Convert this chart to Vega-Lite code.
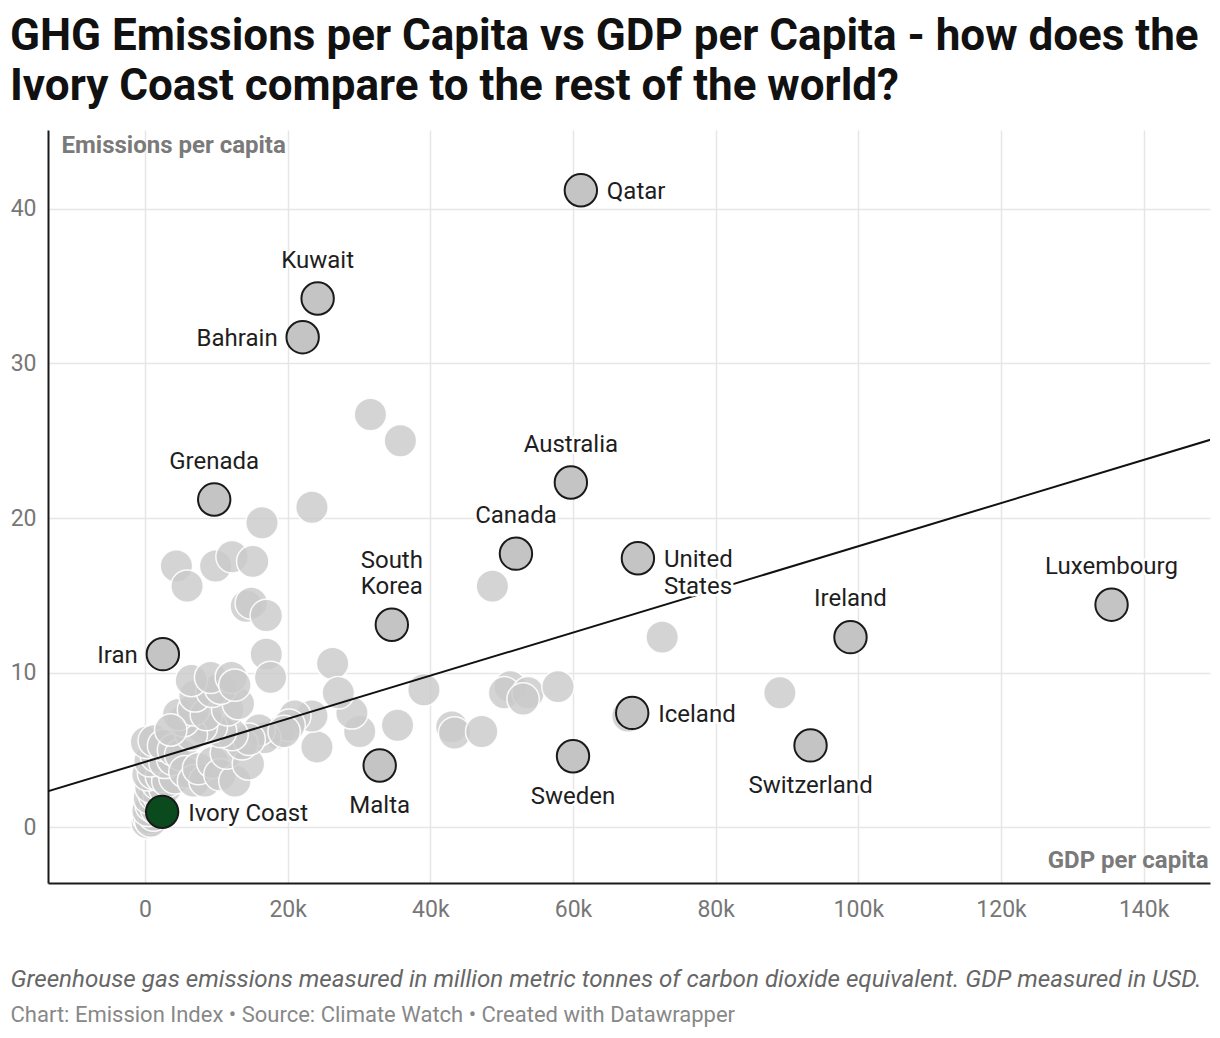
{
  "$schema": "https://vega.github.io/schema/vega-lite/v6.json",
  "width": 1162,
  "height": 753,
  "autosize": {"type": "none"},
  "padding": {"left": 48, "top": 130, "right": 10, "bottom": 155},
  "title": {
    "text": ["GHG Emissions per Capita vs GDP per Capita - how does the", "Ivory Coast compare to the rest of the world?"],
    "anchor": "start",
    "frame": "group",
    "font": "Roboto",
    "fontSize": 44,
    "fontWeight": "bold",
    "color": "#111111",
    "lineHeight": 50,
    "dx": -38,
    "offset": 21
  },
  "datasets": {
    "countries": [
      {"country": "Qatar", "label": "Qatar", "gdp": 61100, "ghg": 41.2},
      {"country": "Kuwait", "label": "Kuwait", "gdp": 24200, "ghg": 34.2},
      {"country": "Bahrain", "label": "Bahrain", "gdp": 22100, "ghg": 31.7},
      {"country": "Grenada", "label": "Grenada", "gdp": 9700, "ghg": 21.2},
      {"country": "Australia", "label": "Australia", "gdp": 59700, "ghg": 22.3},
      {"country": "Canada", "label": "Canada", "gdp": 52000, "ghg": 17.7},
      {"country": "United States", "label": "United\nStates", "gdp": 69100, "ghg": 17.4},
      {"country": "South Korea", "label": "South\nKorea", "gdp": 34600, "ghg": 13.1},
      {"country": "Iran", "label": "Iran", "gdp": 2500, "ghg": 11.2},
      {"country": "Luxembourg", "label": "Luxembourg", "gdp": 135500, "ghg": 14.4},
      {"country": "Ireland", "label": "Ireland", "gdp": 98900, "ghg": 12.3},
      {"country": "Iceland", "label": "Iceland", "gdp": 68300, "ghg": 7.4},
      {"country": "Switzerland", "label": "Switzerland", "gdp": 93300, "ghg": 5.3},
      {"country": "Sweden", "label": "Sweden", "gdp": 60000, "ghg": 4.6},
      {"country": "Malta", "label": "Malta", "gdp": 32900, "ghg": 4.0},
      {"country": "Ivory Coast", "label": "Ivory Coast", "gdp": 2400, "ghg": 1.0},
      {"gdp": 31600, "ghg": 26.7}, {"gdp": 35800, "ghg": 25.0}, {"gdp": 23400, "ghg": 20.7},
      {"gdp": 16400, "ghg": 19.7}, {"gdp": 4400, "ghg": 16.9}, {"gdp": 5900, "ghg": 15.6},
      {"gdp": 9900, "ghg": 16.9}, {"gdp": 12200, "ghg": 17.5}, {"gdp": 15100, "ghg": 17.2},
      {"gdp": 14200, "ghg": 14.3}, {"gdp": 14900, "ghg": 14.5}, {"gdp": 17000, "ghg": 13.7},
      {"gdp": 17000, "ghg": 11.2}, {"gdp": 17600, "ghg": 9.7}, {"gdp": 26300, "ghg": 10.6},
      {"gdp": 48700, "ghg": 15.6}, {"gdp": 72500, "ghg": 12.3}, {"gdp": 89000, "ghg": 8.7},
      {"gdp": 67700, "ghg": 7.2}, {"gdp": 39100, "ghg": 8.9}, {"gdp": 51200, "ghg": 9.1},
      {"gdp": 50400, "ghg": 8.7}, {"gdp": 53700, "ghg": 8.7}, {"gdp": 53000, "ghg": 8.3},
      {"gdp": 57900, "ghg": 9.1}, {"gdp": 43000, "ghg": 6.5}, {"gdp": 43400, "ghg": 6.1},
      {"gdp": 47200, "ghg": 6.2}, {"gdp": 35400, "ghg": 6.6}, {"gdp": 30100, "ghg": 6.2},
      {"gdp": 29000, "ghg": 7.4}, {"gdp": 27100, "ghg": 8.7}, {"gdp": 24100, "ghg": 5.2},
      {"gdp": 23400, "ghg": 7.2}, {"gdp": 21000, "ghg": 7.2}, {"gdp": 18700, "ghg": 6.1},
      {"gdp": 20200, "ghg": 6.6}, {"gdp": 16800, "ghg": 5.8}, {"gdp": 16000, "ghg": 6.3},
      {"gdp": 19500, "ghg": 6.2},
      {"gdp": 300, "ghg": 0.3}, {"gdp": 500, "ghg": 0.6}, {"gdp": 800, "ghg": 0.4},
      {"gdp": 1200, "ghg": 0.8}, {"gdp": 400, "ghg": 1.1}, {"gdp": 900, "ghg": 1.4},
      {"gdp": 1600, "ghg": 1.2}, {"gdp": 600, "ghg": 1.9}, {"gdp": 1300, "ghg": 2.1},
      {"gdp": 2000, "ghg": 2.0}, {"gdp": 800, "ghg": 2.6}, {"gdp": 1800, "ghg": 2.8},
      {"gdp": 2800, "ghg": 2.5}, {"gdp": 400, "ghg": 3.4}, {"gdp": 1200, "ghg": 3.5},
      {"gdp": 2300, "ghg": 3.3}, {"gdp": 3200, "ghg": 3.0}, {"gdp": 4200, "ghg": 3.2},
      {"gdp": 700, "ghg": 4.3}, {"gdp": 1600, "ghg": 4.6}, {"gdp": 2800, "ghg": 4.2},
      {"gdp": 3900, "ghg": 4.4}, {"gdp": 200, "ghg": 5.5}, {"gdp": 1300, "ghg": 5.6},
      {"gdp": 2600, "ghg": 5.3}, {"gdp": 4000, "ghg": 5.0}, {"gdp": 5000, "ghg": 4.7},
      {"gdp": 5600, "ghg": 3.6}, {"gdp": 6800, "ghg": 3.0}, {"gdp": 8400, "ghg": 3.0},
      {"gdp": 7500, "ghg": 3.8}, {"gdp": 9500, "ghg": 4.2}, {"gdp": 10500, "ghg": 3.4},
      {"gdp": 12600, "ghg": 3.0}, {"gdp": 11400, "ghg": 4.8}, {"gdp": 14500, "ghg": 4.1},
      {"gdp": 13600, "ghg": 5.4}, {"gdp": 14600, "ghg": 5.7}, {"gdp": 12200, "ghg": 6.0},
      {"gdp": 10600, "ghg": 6.2}, {"gdp": 9300, "ghg": 6.5}, {"gdp": 7900, "ghg": 6.5},
      {"gdp": 6500, "ghg": 6.0}, {"gdp": 5400, "ghg": 6.9}, {"gdp": 4700, "ghg": 7.3},
      {"gdp": 6800, "ghg": 7.6}, {"gdp": 8600, "ghg": 7.3}, {"gdp": 11600, "ghg": 7.6},
      {"gdp": 13100, "ghg": 8.0}, {"gdp": 7000, "ghg": 8.5}, {"gdp": 9400, "ghg": 8.8},
      {"gdp": 10600, "ghg": 9.0}, {"gdp": 6500, "ghg": 9.5}, {"gdp": 9200, "ghg": 9.7},
      {"gdp": 12100, "ghg": 9.7}, {"gdp": 12600, "ghg": 9.2}, {"gdp": 3600, "ghg": 6.3}
    ],
    "trend": [
      {"gdp_start": -20000, "ghg_start": 1.44, "gdp_end": 160000, "ghg_end": 26.55}
    ]
  },
  "layer": [
    {
      "data": {"name": "countries"},
      "transform": [{"filter": "!datum.country"}],
      "mark": {"type": "circle", "size": 1050, "color": "#c9c9c9", "fillOpacity": 0.8, "stroke": "#ffffff", "strokeWidth": 1.5, "strokeOpacity": 0.9},
      "encoding": {
        "x": {
          "field": "gdp", "type": "quantitative",
          "scale": {"domain": [-13600, 149300], "nice": false, "zero": false},
          "axis": {
            "orient": "bottom",
            "values": [0, 20000, 40000, 60000, 80000, 100000, 120000, 140000],
            "labelExpr": "datum.value === 0 ? '0' : format(datum.value / 1000, 'd') + 'k'",
            "labelPadding": 15,
            "title": "GDP per capita",
            "titleX": 1160, "titleY": -23,
            "titleAlign": "right", "titleBaseline": "middle", "titleAngle": 0
          }
        },
        "y": {
          "field": "ghg", "type": "quantitative",
          "scale": {"domain": [-3.6, 45.1], "nice": false, "zero": false},
          "axis": {
            "orient": "left",
            "values": [0, 10, 20, 30, 40],
            "labelPadding": 12,
            "title": "Emissions per capita",
            "titleX": 13, "titleY": 15,
            "titleAlign": "left", "titleBaseline": "middle", "titleAngle": 0
          }
        }
      }
    },
    {
      "data": {"name": "trend"},
      "mark": {"type": "rule", "color": "#111111", "strokeWidth": 2, "clip": true},
      "encoding": {
        "x": {
          "field": "gdp_start", "type": "quantitative",
          "axis": {
            "orient": "top", "labels": false, "ticks": false, "domain": false, "grid": false,
            "title": "Greenhouse gas emissions measured in million metric tonnes of carbon dioxide equivalent. GDP measured in USD.",
            "titleX": -38, "titleY": 856, "titleAlign": "left", "titleBaseline": "alphabetic", "titleAngle": 0,
            "titleFontStyle": "italic", "titleFontWeight": "normal", "titleFontSize": 24.2, "titleColor": "#666666"
          }
        },
        "x2": {"field": "gdp_end"},
        "y": {
          "field": "ghg_start", "type": "quantitative",
          "axis": {
            "orient": "right", "labels": false, "ticks": false, "domain": false, "grid": false,
            "title": "Chart: Emission Index • Source: Climate Watch • Created with Datawrapper",
            "titleX": -1200, "titleY": 891, "titleAlign": "left", "titleBaseline": "alphabetic", "titleAngle": 0,
            "titleFontWeight": "normal", "titleFontSize": 22, "titleColor": "#888888"
          }
        },
        "y2": {"field": "ghg_end"}
      }
    },
    {
      "data": {"name": "countries"},
      "transform": [{"filter": "datum.country"}],
      "mark": {"type": "circle", "size": 1050, "opacity": 1, "stroke": "#1a1a1a", "strokeWidth": 2},
      "encoding": {
        "x": {"field": "gdp", "type": "quantitative", "axis": null},
        "y": {"field": "ghg", "type": "quantitative", "axis": null},
        "fill": {
          "condition": {"test": "datum.country === 'Ivory Coast'", "value": "#0b4a1d"},
          "value": "#c4c4c4"
        }
      }
    },
    {
      "data": {"name": "countries"},
      "transform": [{"filter": {"field": "country", "oneOf": ["Qatar", "United States", "Iceland", "Ivory Coast"]}}],
      "mark": {"type": "text", "align": "left", "baseline": "top", "dx": 26, "dy": -10, "lineBreak": "\n", "lineHeight": 27, "fontSize": 24, "color": "#ffffff", "stroke": "#ffffff", "strokeWidth": 5, "strokeJoin": "round"},
      "encoding": {
        "x": {"field": "gdp", "type": "quantitative", "axis": null},
        "y": {"field": "ghg", "type": "quantitative", "axis": null},
        "text": {"field": "label"}
      }
    },
    {
      "data": {"name": "countries"},
      "transform": [{"filter": {"field": "country", "oneOf": ["Qatar", "United States", "Iceland", "Ivory Coast"]}}],
      "mark": {"type": "text", "align": "left", "baseline": "top", "dx": 26, "dy": -10, "lineBreak": "\n", "lineHeight": 27, "fontSize": 24, "color": "#1e1e1e"},
      "encoding": {
        "x": {"field": "gdp", "type": "quantitative", "axis": null},
        "y": {"field": "ghg", "type": "quantitative", "axis": null},
        "text": {"field": "label"}
      }
    },
    {
      "data": {"name": "countries"},
      "transform": [{"filter": {"field": "country", "oneOf": ["Bahrain", "Iran"]}}],
      "mark": {"type": "text", "align": "right", "baseline": "top", "dx": -25, "dy": -10, "fontSize": 24, "color": "#ffffff", "stroke": "#ffffff", "strokeWidth": 5, "strokeJoin": "round"},
      "encoding": {
        "x": {"field": "gdp", "type": "quantitative", "axis": null},
        "y": {"field": "ghg", "type": "quantitative", "axis": null},
        "text": {"field": "label"}
      }
    },
    {
      "data": {"name": "countries"},
      "transform": [{"filter": {"field": "country", "oneOf": ["Bahrain", "Iran"]}}],
      "mark": {"type": "text", "align": "right", "baseline": "top", "dx": -25, "dy": -10, "fontSize": 24, "color": "#1e1e1e"},
      "encoding": {
        "x": {"field": "gdp", "type": "quantitative", "axis": null},
        "y": {"field": "ghg", "type": "quantitative", "axis": null},
        "text": {"field": "label"}
      }
    },
    {
      "data": {"name": "countries"},
      "transform": [{"filter": {"field": "country", "oneOf": ["Kuwait", "Grenada", "Australia", "Canada", "Luxembourg", "Ireland"]}}],
      "mark": {"type": "text", "align": "center", "baseline": "bottom", "dy": -26, "fontSize": 24, "color": "#ffffff", "stroke": "#ffffff", "strokeWidth": 5, "strokeJoin": "round"},
      "encoding": {
        "x": {"field": "gdp", "type": "quantitative", "axis": null},
        "y": {"field": "ghg", "type": "quantitative", "axis": null},
        "text": {"field": "label"}
      }
    },
    {
      "data": {"name": "countries"},
      "transform": [{"filter": {"field": "country", "oneOf": ["Kuwait", "Grenada", "Australia", "Canada", "Luxembourg", "Ireland"]}}],
      "mark": {"type": "text", "align": "center", "baseline": "bottom", "dy": -26, "fontSize": 24, "color": "#1e1e1e"},
      "encoding": {
        "x": {"field": "gdp", "type": "quantitative", "axis": null},
        "y": {"field": "ghg", "type": "quantitative", "axis": null},
        "text": {"field": "label"}
      }
    },
    {
      "data": {"name": "countries"},
      "transform": [{"filter": "datum.country === 'South Korea'"}],
      "mark": {"type": "text", "align": "center", "baseline": "bottom", "dy": -52, "lineBreak": "\n", "lineHeight": 26, "fontSize": 24, "color": "#1e1e1e"},
      "encoding": {
        "x": {"field": "gdp", "type": "quantitative", "axis": null},
        "y": {"field": "ghg", "type": "quantitative", "axis": null},
        "text": {"field": "label"}
      }
    },
    {
      "data": {"name": "countries"},
      "transform": [{"filter": {"field": "country", "oneOf": ["Malta", "Sweden", "Switzerland"]}}],
      "mark": {"type": "text", "align": "center", "baseline": "top", "dy": 29, "fontSize": 24, "color": "#ffffff", "stroke": "#ffffff", "strokeWidth": 5, "strokeJoin": "round"},
      "encoding": {
        "x": {"field": "gdp", "type": "quantitative", "axis": null},
        "y": {"field": "ghg", "type": "quantitative", "axis": null},
        "text": {"field": "label"}
      }
    },
    {
      "data": {"name": "countries"},
      "transform": [{"filter": {"field": "country", "oneOf": ["Malta", "Sweden", "Switzerland"]}}],
      "mark": {"type": "text", "align": "center", "baseline": "top", "dy": 29, "fontSize": 24, "color": "#1e1e1e"},
      "encoding": {
        "x": {"field": "gdp", "type": "quantitative", "axis": null},
        "y": {"field": "ghg", "type": "quantitative", "axis": null},
        "text": {"field": "label"}
      }
    }
  ],
  "resolve": {"axis": {"x": "independent", "y": "independent"}},
  "config": {
    "font": "Roboto",
    "view": {"stroke": null},
    "text": {"font": "Roboto"},
    "axis": {
      "labelFont": "Roboto",
      "labelFontSize": 23,
      "labelColor": "#777777",
      "titleFont": "Roboto",
      "titleFontSize": 24,
      "titleFontWeight": "bold",
      "titleColor": "#7a7a7a",
      "ticks": false,
      "domainColor": "#1a1a1a",
      "domainWidth": 2,
      "gridColor": "#e6e6e6",
      "gridWidth": 1.5
    }
  }
}
